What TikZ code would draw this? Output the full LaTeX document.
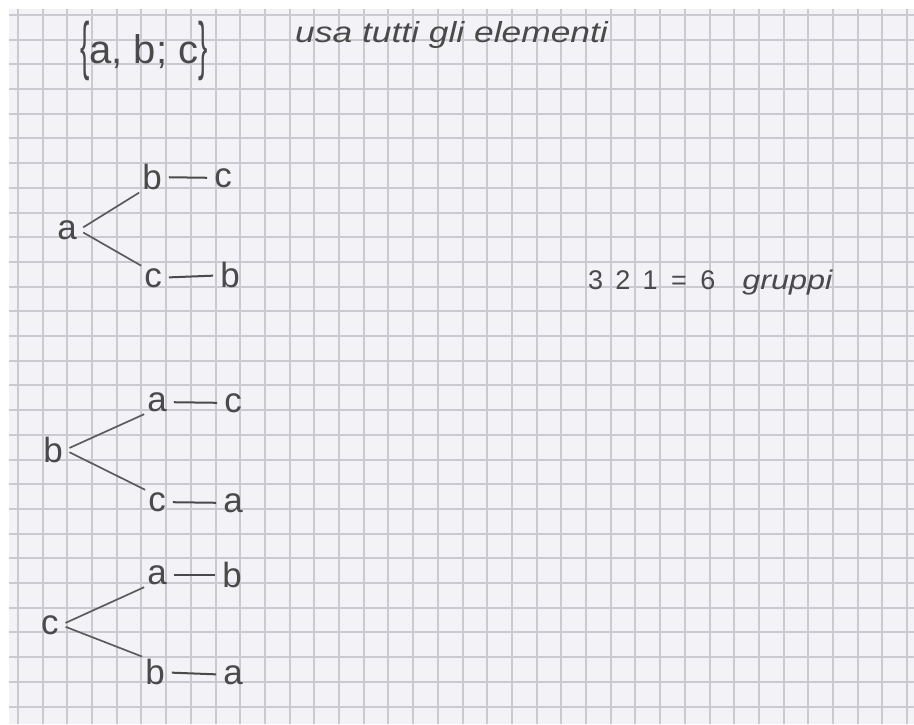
\documentclass[tikz,border=0pt]{standalone}
\usepackage{fontspec}
\setmainfont{Liberation Sans}
\definecolor{ink}{HTML}{4A4A4A}
\definecolor{paper}{HTML}{F3F2F6}
\definecolor{rule}{HTML}{CBCAD1}

\begin{document}
\begin{tikzpicture}[x=1pt,y=-1pt,
		letter/.style={inner sep=2pt, text=ink, font=\fontsize{35}{35}\selectfont},
		note/.style={inner sep=0pt, text=ink, font=\fontsize{29}{29}\selectfont\itshape},
		branch/.style={draw=ink!90, line width=1.7pt, shorten <=5pt, shorten >=1pt},
		pair/.style={draw=ink, line width=2pt, shorten <=5pt, shorten >=5pt},
		gridline/.style={draw=rule, line width=2pt}]
		\useasboundingbox (0,0) rectangle (914,724);
		\fill[white] (0,0) rectangle (914,724);
		\fill[paper] (9,9) rectangle (914,724);
		\foreach \k in {0,...,36} \draw[gridline] ({round(18+24.7*\k)},9) -- ({round(18+24.7*\k)},724);
		\foreach \k in {0,...,28} \draw[gridline] (9,{round(15+24.7*\k)}) -- (914,{round(15+24.7*\k)});
		\node[letter, anchor=base, font=\fontsize{40}{40}\selectfont] (set) at (144,63) {\raisebox{-4pt}{\scalebox{0.7}[1.6]{\{}}a, b; c\raisebox{-4pt}{\scalebox{0.7}[1.6]{\}}}};
		\node[note, anchor=base west] (rule) at (295,42) {\scalebox{1.22}[1]{usa tutti gli elementi}};
		\node[letter] (ra) at (67,230) {a};
		\node[letter] (rab) at (152,177) {b};
		\node[letter] (rabc) at (223,178) {c};
		\node[letter] (rac) at (153,278) {c};
		\node[letter] (racb) at (230,275) {b};
		\draw[branch] (ra.east) -- (rab.south west);
		\draw[branch] (ra.east) -- (rac.north west);
		\draw[pair] (rab) -- (rabc);
		\draw[pair] (rac) -- (racb);
		\node[letter] (rb) at (53,450) {b};
		\node[letter] (rba) at (157,402) {a};
		\node[letter] (rbac) at (233,403) {c};
		\node[letter] (rbc) at (157,502) {c};
		\node[letter] (rbca) at (233,503) {a};
		\draw[branch] (rb.east) -- (rba.south west);
		\draw[branch] (rb.east) -- (rbc.north west);
		\draw[pair] (rba) -- (rbac);
		\draw[pair] (rbc) -- (rbca);
		\node[letter] (rc) at (50,625) {c};
		\node[letter] (rca) at (157,575) {a};
		\node[letter] (rcab) at (232,575) {b};
		\node[letter] (rcb) at (155,672) {b};
		\node[letter] (rcba) at (233,675) {a};
		\draw[branch] (rc.east) -- (rca.south west);
		\draw[branch] (rc.east) -- (rcb.north west);
		\draw[pair] (rca) -- (rcab);
		\draw[pair] (rcb) -- (rcba);
		\node[note, anchor=base west, font=\fontsize{27}{27}\selectfont] (count) at (588,289) {3\hspace{0.45em}2\hspace{0.45em}1\hspace{0.5em}=\hspace{0.5em}6\hspace{1em}\textit{\scalebox{1.2}[1]{gruppi}}};
	\end{tikzpicture}
\end{document}
